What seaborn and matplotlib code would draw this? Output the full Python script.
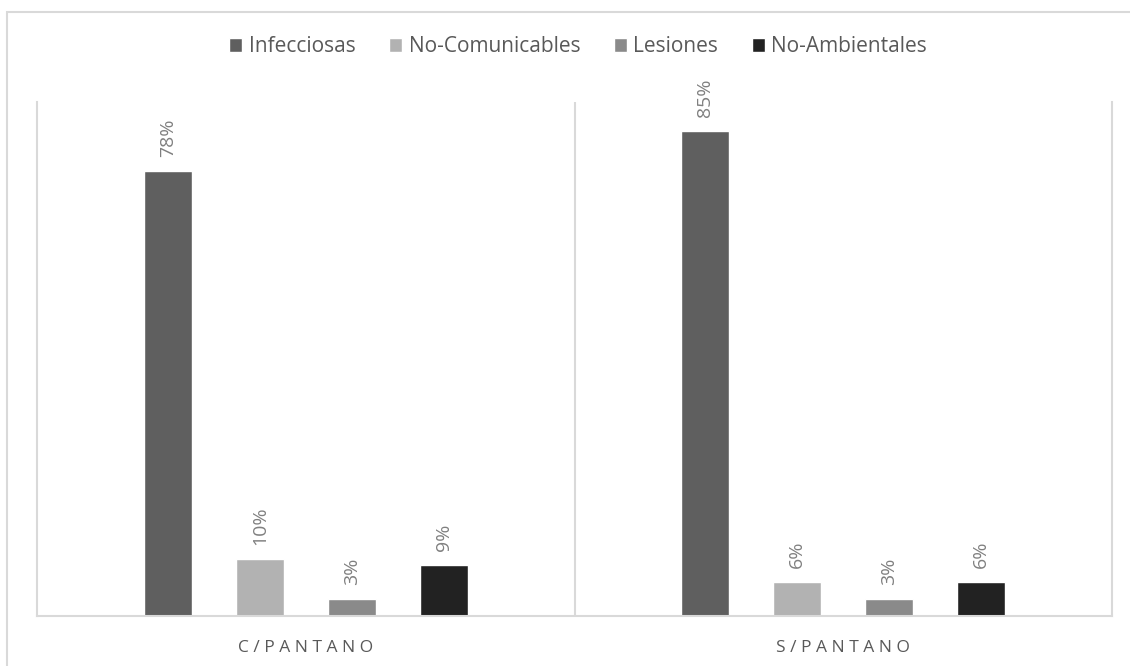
import pandas as pd
import matplotlib
matplotlib.use('Agg')
import matplotlib.pyplot as plt
from matplotlib.patches import Rectangle
import seaborn as sns

# datos
categorias = ['C/PANTANO', 'S/PANTANO']
etiquetas_cat = ['C / P A N T A N O', 'S / P A N T A N O']
series = ['Infecciosas', 'No-Comunicables', 'Lesiones', 'No-Ambientales']
infecciosas = [78, 85]
no_comunicables = [10, 6]
lesiones = [3, 3]
no_ambientales = [9, 6]
colores = ['#5f5f5f', '#b2b2b2', '#8a8a8a', '#222222']

valores = [infecciosas, no_comunicables, lesiones, no_ambientales]
filas = []
for s, vals in zip(series, valores):
    for c, v in zip(categorias, vals):
        filas.append({'Zona': c, 'Grupo': s, 'Valor': v})
df = pd.DataFrame(filas)

sns.set_theme(style='white')
plt.rcParams['font.family'] = ['Open Sans', 'DejaVu Sans']

fig = plt.figure(figsize=(11.3, 6.66), dpi=100)
ax = fig.add_axes([37 / 1130, 1 - 616 / 666, (1112 - 37) / 1130, (616 - 102) / 666])

sns.barplot(data=df, x='Zona', y='Valor', hue='Grupo', order=categorias,
            hue_order=series, palette=dict(zip(series, colores)),
            width=0.684, gap=0.48, saturation=1, ax=ax, legend=True)

for cont in ax.containers:
    ax.bar_label(cont, labels=[f'{int(v)}%' for v in cont.datavalues],
                 rotation=90, padding=10, color='#808080', fontsize=14)

ax.set_ylim(0, 90)
ax.set_xlim(-0.5, 1.5)
ax.set_yticks([])
ax.set_xlabel('')
ax.set_ylabel('')
ax.set_xticks(range(len(categorias)))
ax.set_xticklabels(etiquetas_cat, color='#595959', fontsize=12.5)
ax.tick_params(axis='x', length=0, pad=17)
ax.axvline(0.5, color='#d9d9d9', lw=1.5)
for lado in ['left', 'right', 'bottom']:
    ax.spines[lado].set_color('#d9d9d9')
    ax.spines[lado].set_linewidth(1.5)
ax.spines['top'].set_visible(False)

ax.legend(loc='center', bbox_to_anchor=(541 / 1075, (616 - 47) / 514),
          ncol=4, frameon=False, fontsize=15, handlelength=0.65,
          handleheight=0.65, handletextpad=0.3, columnspacing=1.6,
          labelcolor='#595959')

fig.patches.append(Rectangle((7 / 1130, -0.05), 1.1, 1.05 - 12 / 666,
                             transform=fig.transFigure, fill=False,
                             edgecolor='#d9d9d9', lw=1.5))

fig.savefig('out.png', dpi=100)
